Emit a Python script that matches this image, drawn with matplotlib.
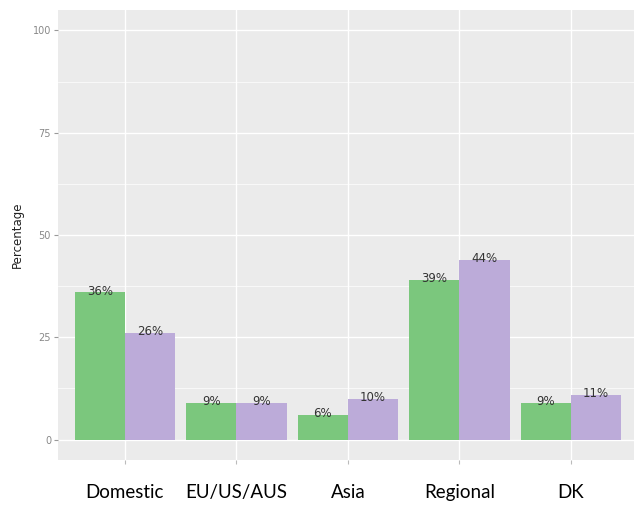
import matplotlib
matplotlib.use("Agg")
import matplotlib.pyplot as plt
import numpy as np

categories = ["Domestic", "EU/US/AUS", "Asia", "Regional", "DK"]
series_a = [36, 9, 6, 39, 9]
series_b = [26, 9, 10, 44, 11]
labels_a = ["36%", "9%", "6%", "39%", "9%"]
labels_b = ["26%", "9%", "10%", "44%", "11%"]
yticks = [0, 25, 50, 75, 100]

green = "#7BC77D"
purple = "#BCABD9"

fig = plt.figure(figsize=(6.34, 5.05), dpi=100)
ax = fig.add_axes([58/634, 1-460/505, 1-58/634, 450/505])
ax.set_facecolor("#EBEBEB")
for s in ax.spines.values():
    s.set_visible(False)

x = np.arange(1, len(categories) + 1)
w = 0.45
ax.bar(x - w/2, series_a, width=w, color=green, zorder=3)
ax.bar(x + w/2, series_b, width=w, color=purple, zorder=3)
for xi, v, t in zip(x - w/2, series_a, labels_a):
    ax.text(xi, v + 0.3, t, ha="center", va="center", fontsize=8.5, color="#333333", zorder=4)
for xi, v, t in zip(x + w/2, series_b, labels_b):
    ax.text(xi, v + 0.3, t, ha="center", va="center", fontsize=8.5, color="#333333", zorder=4)

ax.set_xlim(0.4, 0.4 + 576/111.5)
ax.set_ylim(-5, 105)
ax.set_yticks(yticks)
ax.set_yticks([12.5, 37.5, 62.5, 87.5], minor=True)
ax.set_xticks(x)
ax.set_xticklabels(categories, fontsize=13.5, color="black", family=["Lato", "DejaVu Sans"])
ax.tick_params(axis="x", length=3, color="#BBBBBB", pad=14)
ax.tick_params(axis="y", which="major", length=3, color="#999999", labelsize=7, labelcolor="#888888", pad=2)
ax.tick_params(axis="y", which="minor", length=0)
ax.grid(True, which="major", color="white", linewidth=1.0, zorder=0)
ax.grid(True, which="minor", axis="y", color="white", linewidth=0.5, zorder=0)
ax.set_axisbelow(True)
ax.set_ylabel("Percentage", fontsize=8.5, color="#222222", labelpad=6)

fig.savefig("out.png", dpi=100)
